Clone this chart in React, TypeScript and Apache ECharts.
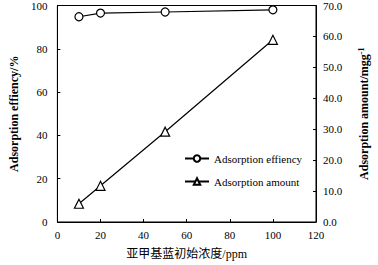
import React, { useEffect, useRef } from "react";
import * as echarts from "echarts";

const concentrations = [10, 20, 50, 100];
const efficiency = [94.8, 96.5, 97.0, 98.0];
const amount = [5.9, 11.7, 29.2, 58.9];

const FONT = "'Liberation Serif', 'Times New Roman', serif";

export default function App() {
  const ref = useRef<HTMLDivElement>(null);
  useEffect(() => {
    const chart = echarts.init(ref.current!, null, { renderer: "svg" });
    chart.setOption({
      animation: false,
      backgroundColor: "#fff",
      textStyle: { fontFamily: FONT, color: "#000" },
      grid: { left: 46, right: 52, top: 5, bottom: 38, show: true, borderColor: "#000", borderWidth: 1 },
      legend: {
        orient: "vertical",
        left: 179,
        top: 148,
        itemGap: 12,
        itemWidth: 24,
        itemHeight: 8,
        textStyle: { fontFamily: FONT, fontSize: 11, color: "#000" },
        data: ["Adsorption effiency", "Adsorption amount"],
      },
      xAxis: {
        type: "value",
        min: 0,
        max: 120,
        interval: 20,
        name: "亚甲基蓝初始浓度/ppm",
        nameLocation: "middle",
        nameGap: 26,
        nameTextStyle: { fontFamily: "'Liberation Serif', 'Noto Sans CJK SC', serif", fontSize: 12, color: "#000" },
        axisLine: { show: true, onZero: false, lineStyle: { color: "#000" } },
        axisTick: { inside: true, length: 3, lineStyle: { color: "#000" } },
        axisLabel: { fontFamily: FONT, fontSize: 11, color: "#000", margin: 8 },
        splitLine: { show: false },
      },
      yAxis: [
        {
          type: "value",
          min: 0,
          max: 100,
          interval: 20,
          name: "Adsorption effiency/%",
          nameLocation: "middle",
          nameRotate: 90,
          nameGap: 28,
          nameTextStyle: { fontFamily: FONT, fontSize: 12, fontWeight: "bold", color: "#000" },
          axisLine: { show: true, lineStyle: { color: "#000" } },
          axisTick: { show: true, inside: true, length: 3, lineStyle: { color: "#000" } },
          axisLabel: { fontFamily: FONT, fontSize: 11, color: "#000", margin: 10 },
          splitLine: { show: false },
        },
        {
          type: "value",
          min: 0,
          max: 70,
          interval: 10,
          position: "right",
          name: "{a|Adsorption amount/mgg}{s|-1}",
          nameLocation: "middle",
          nameRotate: 90,
          nameGap: 41,
          nameTextStyle: {
            fontFamily: FONT,
            fontSize: 12,
            fontWeight: "bold",
            color: "#000",
            rich: {
              a: { fontFamily: FONT, fontSize: 12, fontWeight: "bold", color: "#000" },
              s: { fontFamily: FONT, fontSize: 8, fontWeight: "bold", color: "#000", verticalAlign: "top", padding: [0, 0, 6, 0] },
            },
          },
          axisLine: { show: true, lineStyle: { color: "#000" } },
          axisTick: { show: true, inside: true, length: 3, lineStyle: { color: "#000" } },
          axisLabel: { fontFamily: FONT, fontSize: 11, color: "#000", margin: 7, formatter: (v: number) => v.toFixed(1) },
          splitLine: { show: false },
        },
      ],
      series: [
        {
          name: "Adsorption effiency",
          type: "line",
          yAxisIndex: 0,
          data: concentrations.map((c, i) => [c, efficiency[i]]),
          symbol: "circle",
          symbolSize: 8,
          itemStyle: { color: "#fff", borderColor: "#000", borderWidth: 1.2 },
          lineStyle: { color: "#000", width: 1.2 },
        },
        {
          name: "Adsorption amount",
          type: "line",
          yAxisIndex: 1,
          data: concentrations.map((c, i) => [c, amount[i]]),
          symbol: "triangle",
          symbolSize: 9,
          itemStyle: { color: "#fff", borderColor: "#000", borderWidth: 1.2 },
          lineStyle: { color: "#000", width: 1.2 },
        },
      ],
    });
    return () => chart.dispose();
  }, []);
  return <div ref={ref} style={{ width: 378, height: 265, position: "absolute", left: 0, top: 0 }} />;
}
